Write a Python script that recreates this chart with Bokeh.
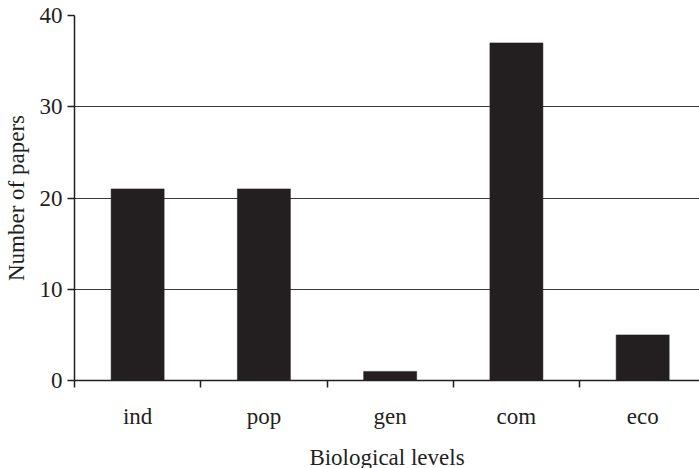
import numpy as np
from bokeh.plotting import figure
from bokeh.models import FixedTicker, Range1d
from bokeh.embed import file_html
from bokeh.resources import INLINE

categories = ["ind", "pop", "gen", "com", "eco"]
papers = [21, 21, 1, 37, 5]
y_ticks = [0, 10, 20, 30, 40]

FONT = "Liberation Serif"
INK = "#231f20"
FS = "23px"

centers = list(np.arange(len(categories)) + 0.5)
bounds = list(np.arange(len(categories) + 1).astype(float))

p = figure(frame_width=625, frame_height=365, output_backend="svg", toolbar_location=None,
           x_range=Range1d(0, 4.95), y_range=Range1d(0, 40),
           min_border_left=74, min_border_right=0, min_border_top=15, min_border_bottom=0)
p.outline_line_color = None
p.background_fill_color = "white"
p.border_fill_color = "white"

p.vbar(x=centers, top=papers, width=0.42, fill_color=INK, line_color=INK, line_width=0.5)

# x axis
xa = p.xaxis[0]
xa.ticker = FixedTicker(ticks=centers, minor_ticks=bounds)
xa.major_label_overrides = {c: n for c, n in zip(centers, categories)}
xa.major_tick_out = 0
xa.major_tick_in = 0
xa.minor_tick_out = 7
xa.minor_tick_in = 0
xa.minor_tick_line_color = INK
xa.axis_line_color = INK
xa.axis_line_width = 1.5
xa.minor_tick_line_width = 1.5
xa.major_label_standoff = 16
xa.major_label_text_font = FONT
xa.major_label_text_font_size = FS
xa.major_label_text_color = INK
xa.axis_label = "Biological levels"
xa.axis_label_text_font = FONT
xa.axis_label_text_font_size = FS
xa.axis_label_text_font_style = "normal"
xa.axis_label_text_color = INK
xa.axis_label_standoff = 13

# y axis
ya = p.yaxis[0]
ya.ticker = FixedTicker(ticks=y_ticks, minor_ticks=[])
ya.major_tick_out = 7
ya.major_tick_in = 0
ya.major_tick_line_color = INK
ya.major_tick_line_width = 1.5
ya.axis_line_color = INK
ya.axis_line_width = 1.5
ya.major_label_standoff = 5
ya.major_label_text_font = FONT
ya.major_label_text_font_size = FS
ya.major_label_text_color = INK
ya.axis_label = "Number of papers"
ya.axis_label_text_font = FONT
ya.axis_label_text_font_size = FS
ya.axis_label_text_font_style = "normal"
ya.axis_label_text_color = INK
ya.axis_label_standoff = 8

p.xgrid.grid_line_color = None
p.ygrid.ticker = FixedTicker(ticks=y_ticks[1:])
p.ygrid.grid_line_color = "#3a3a3a"
p.ygrid.grid_line_width = 1.2

open("out.html", "w").write(file_html(p, INLINE))
